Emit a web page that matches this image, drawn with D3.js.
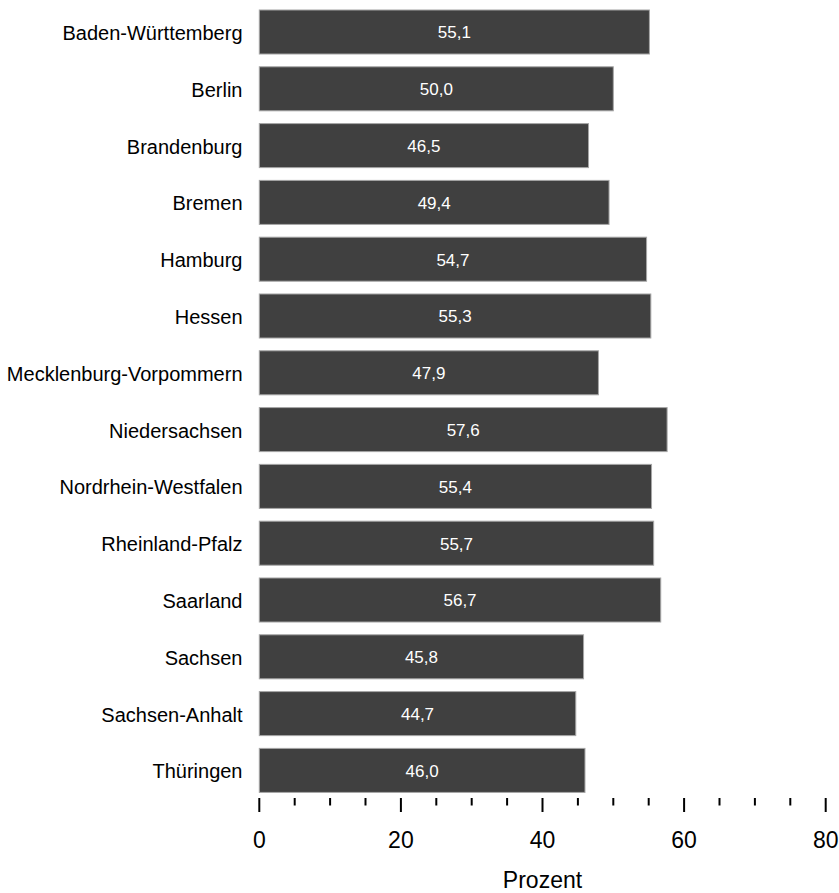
<!DOCTYPE html>
<html><head><meta charset="utf-8">
<script src="https://cdn.jsdelivr.net/npm/d3@7"></script>
<style>body{margin:0;background:#fff}svg{display:block;font-family:"Liberation Sans",Arial,sans-serif}</style>
</head><body><svg id="c" width="839" height="893"></svg>
<script>
const categories = ["Baden-Württemberg","Berlin","Brandenburg","Bremen","Hamburg","Hessen","Mecklenburg-Vorpommern","Niedersachsen","Nordrhein-Westfalen","Rheinland-Pfalz","Saarland","Sachsen","Sachsen-Anhalt","Thüringen"];
const values = [55.1,50.0,46.5,49.4,54.7,55.3,47.9,57.6,55.4,55.7,56.7,45.8,44.7,46.0];
const majorTicks = [0,20,40,60,80];
const minorTicks = d3.range(0,81,5).filter(v=>v%20!==0);
const xTitle = "Prozent";

const svg = d3.select("#c");
const x = d3.scaleLinear().domain([0,80]).range([259.3,825.7]);
const y = d3.scaleBand().domain(categories).range([3.6,798.8]).paddingInner(0.225).paddingOuter(0.1125);
const fmt = v => v.toFixed(1).replace(".", ",");

svg.selectAll("rect.bar").data(categories).join("rect")
  .attr("class","bar")
  .attr("x", x(0)).attr("y", d=>y(d))
  .attr("width", (d,i)=>x(values[i])-x(0)).attr("height", y.bandwidth())
  .attr("fill","#404040").attr("stroke","#a6a6a6").attr("stroke-width",1);

svg.selectAll("text.val").data(categories).join("text")
  .attr("class","val")
  .attr("x",(d,i)=>(x(0)+x(values[i]))/2).attr("y", d=>y(d)+y.bandwidth()/2+0.5)
  .attr("dy","0.35em").attr("text-anchor","middle")
  .attr("fill","#fff").attr("font-size",17)
  .text((d,i)=>fmt(values[i]));

svg.selectAll("text.cat").data(categories).join("text")
  .attr("class","cat")
  .attr("x",242.5).attr("y", d=>y(d)+y.bandwidth()/2+1)
  .attr("dy","0.35em").attr("text-anchor","end")
  .attr("fill","#000").attr("font-size",20)
  .text(d=>d);

const ax = svg.append("g");
ax.selectAll("line.maj").data(majorTicks).join("line")
  .attr("x1",d=>x(d)).attr("x2",d=>x(d)).attr("y1",798).attr("y2",812)
  .attr("stroke","#000").attr("stroke-width",2);
ax.selectAll("line.min").data(minorTicks).join("line")
  .attr("x1",d=>x(d)).attr("x2",d=>x(d)).attr("y1",798).attr("y2",805.5)
  .attr("stroke","#000").attr("stroke-width",2);
ax.selectAll("text.tl").data(majorTicks).join("text")
  .attr("x",d=>x(d)).attr("y",840).attr("dy","0.35em")
  .attr("text-anchor","middle").attr("font-size",23).attr("fill","#000")
  .text(d=>d);
svg.append("text").attr("x",(x(0)+x(80))/2).attr("y",880).attr("dy","0.35em")
  .attr("text-anchor","middle").attr("font-size",23).attr("fill","#000").text(xTitle);
</script></body></html>
